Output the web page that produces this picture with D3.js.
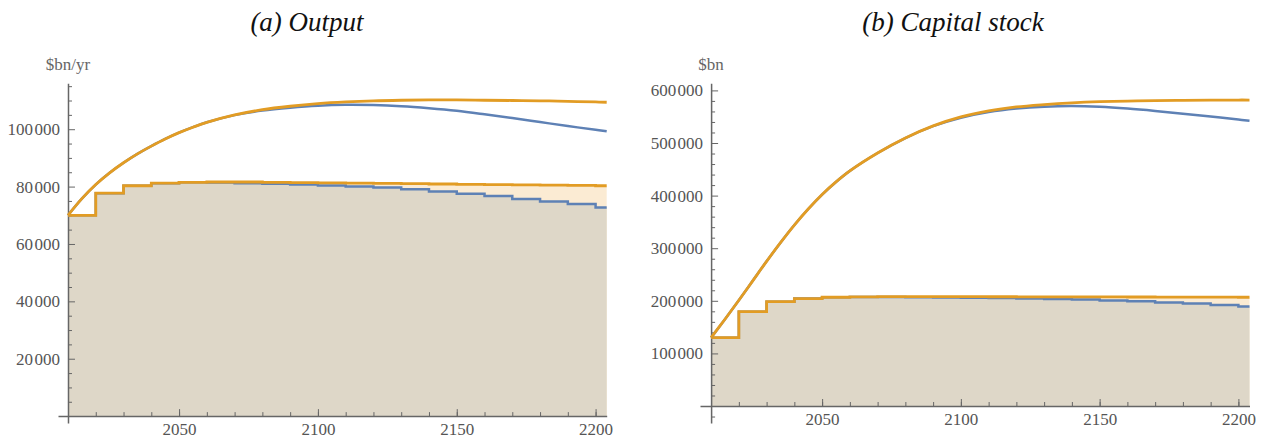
<!DOCTYPE html>
<html>
<head>
<meta charset="utf-8">
<script src="https://cdn.jsdelivr.net/npm/d3@7.9.0/dist/d3.min.js"></script>
<style>
  body { margin: 0; background: #fff; }
  svg { display: block; }
</style>
</head>
<body>
<svg id="chart" width="1262" height="439"></svg>
<script>
// decade steps (value holds from year to next decade); last value extended to endYear
const stepYears = [2010, 2020, 2030, 2040, 2050, 2060, 2070, 2080, 2090, 2100,
                   2110, 2120, 2130, 2140, 2150, 2160, 2170, 2180, 2190, 2200];
const endYear = 2204;
const smoothYears = [2010, 2015, 2020, 2025, 2030, 2035, 2040, 2045, 2050, 2055, 2060, 2070, 2080,
                     2090, 2100, 2110, 2120, 2130, 2140, 2150, 2160, 2170, 2180, 2190, 2200, 2204];

// (a) Output, $bn/yr
const outTopOrange = [70000, 75800, 80700, 84800, 88300, 91400, 94100, 96600, 98800, 100700, 102400, 105000, 106800,
                      108000, 108900, 109500, 109900, 110100, 110200, 110200, 110100, 110000, 109900, 109700, 109500, 109400];
const outTopBlue   = [70000, 75800, 80700, 84800, 88300, 91400, 94100, 96600, 98800, 100700, 102400, 104900, 106500,
                      107500, 108200, 108500, 108400, 108000, 107300, 106400, 105200, 103900, 102500, 101100, 99800, 99300];
const outStepOrange = [70000, 77700, 80300, 81200, 81500, 81600, 81600, 81500, 81400, 81300,
                       81200, 81100, 81000, 80900, 80800, 80700, 80600, 80500, 80400, 80300];
const outStepBlue   = [70000, 77700, 80300, 81200, 81500, 81400, 81200, 81000, 80700, 80400,
                       80000, 79700, 79100, 78300, 77500, 76700, 75700, 74800, 73900, 72700];

// (b) Capital stock, $bn
const capTopOrange = [130000, 165000, 201000, 238000, 275000, 310500, 344000, 374500, 402000, 426000, 447000, 481000, 509500,
                      532500, 549500, 561000, 568500, 573000, 576300, 578500, 579800, 580700, 581200, 581500, 581700, 581700];
const capTopBlue   = [130000, 165000, 201000, 238000, 275000, 310500, 344000, 374500, 402000, 426000, 447000, 481000, 509500,
                      532000, 548000, 558800, 565400, 569000, 570200, 568800, 565500, 561000, 555800, 550300, 544600, 542400];
const capStepOrange = [130000, 179300, 198300, 204300, 206800, 207500, 207800, 207900, 207900, 207800,
                       207700, 207600, 207500, 207400, 207300, 207200, 207100, 207000, 206900, 206800];
const capStepBlue   = [130000, 179300, 198300, 204300, 206800, 207300, 207300, 207000, 206500, 206000,
                       205300, 204500, 203500, 202300, 200800, 199000, 197000, 194700, 192000, 189000];

const outTicks = [20000, 40000, 60000, 80000, 100000];
const capTicks = [100000, 200000, 300000, 400000, 500000, 600000];
const yearTicks = [2050, 2100, 2150, 2200];

const orange = '#e29c24';
const blue = '#5e81b5';
const serif = 'Liberation Serif';

const svg = d3.select('#chart');
const fmt = (v) => d3.format('d')(v).replace(/(\d)(\d{3})$/, '$1\u200A$2');

function styleTicks(a) {
  a.attr('font-family', serif).attr('font-size', 17);
  a.selectAll('.tick line').attr('stroke', '#666');
  a.selectAll('.tick text').attr('font-family', serif).attr('font-size', 17).attr('fill', '#555');
}

function drawPanel(p) {
  const x = d3.scaleLinear().domain(p.xDomain).range(p.xRange);
  const y = d3.scaleLinear().domain(p.yDomain).range([423, 83.3]);
  const g = svg.append('g');

  const steps = (vals) => stepYears.map((yr, i) => [yr, vals[i]]).concat([[endYear, vals[vals.length - 1]]]);
  const smooth = (vals) => smoothYears.map((yr, i) => [yr, vals[i]]);

  const area = d3.area().curve(d3.curveStepAfter)
    .x((d) => x(d[0])).y0(y(0)).y1((d) => y(d[1]));
  const stepLine = d3.line().curve(d3.curveStepAfter).x((d) => x(d[0])).y((d) => y(d[1]));
  const smoothLine = d3.line().curve(d3.curveCatmullRom.alpha(0.5)).x((d) => x(d[0])).y((d) => y(d[1]));

  g.append('path').attr('d', area(steps(p.stepOrange))).attr('fill', '#fbebd3');
  g.append('path').attr('d', area(steps(p.stepBlue))).attr('fill', '#ded7c8');

  // minor ticks
  g.append('g').attr('transform', `translate(${x(2010)},0)`)
    .call(d3.axisLeft(y).tickValues(p.yMinor).tickSize(-4).tickFormat('').tickSizeOuter(0))
    .call(styleTicks)
    .call((a) => a.select('.domain').remove());
  g.append('g').attr('transform', `translate(0,${y(0)})`)
    .call(d3.axisBottom(x).tickValues(d3.range(2020, 2201, 10)).tickSize(-4).tickFormat('').tickSizeOuter(0))
    .call(styleTicks)
    .call((a) => a.select('.domain').remove());

  // major axes
  g.append('g').attr('transform', `translate(${x(2010)},0)`)
    .call(d3.axisLeft(y).tickValues(p.yTicks).tickSize(-7).tickPadding(8).tickFormat(fmt).tickSizeOuter(0))
    .call(styleTicks)
    .call((a) => a.select('.domain').attr('stroke', '#666').attr('stroke-width', 1.5));
  g.append('g').attr('transform', `translate(0,${y(0)})`)
    .call(d3.axisBottom(x).tickValues(yearTicks).tickSize(-7).tickPadding(7).tickSizeOuter(0).tickFormat(d3.format('d')))
    .call(styleTicks)
    .call((a) => a.select('.domain').attr('stroke', '#666').attr('stroke-width', 1.5));

  g.append('path').attr('d', stepLine(steps(p.stepBlue))).attr('fill', 'none').attr('stroke', blue).attr('stroke-width', 2.5);
  g.append('path').attr('d', stepLine(steps(p.stepOrange))).attr('fill', 'none').attr('stroke', orange).attr('stroke-width', 2.8);
  g.append('path').attr('d', smoothLine(smooth(p.topBlue))).attr('fill', 'none').attr('stroke', blue).attr('stroke-width', 2.5);
  g.append('path').attr('d', smoothLine(smooth(p.topOrange))).attr('fill', 'none').attr('stroke', orange).attr('stroke-width', 2.8);

  g.append('text').attr('x', x(2010)).attr('y', 70).attr('text-anchor', 'middle')
    .attr('font-family', serif).attr('font-size', 17).attr('fill', '#666')
    .text(p.unit);
  g.append('text').attr('x', p.titleX).attr('y', 31).attr('text-anchor', 'middle')
    .attr('font-family', serif).attr('font-style', 'italic').attr('font-size', 27)
    .attr('fill', '#111').text(p.title);
}

drawPanel({
  title: '(a) Output', titleX: 307, unit: '$bn/yr',
  xDomain: [2006.4, 2204], xRange: [58, 606.7],
  yDomain: [-2400, 116000], yTicks: outTicks,
  yMinor: d3.range(5000, 116000, 5000).filter((v) => v % 20000 !== 0),
  topOrange: outTopOrange, topBlue: outTopBlue, stepOrange: outStepOrange, stepBlue: outStepBlue
});
drawPanel({
  title: '(b) Capital stock', titleX: 953, unit: '$bn',
  xDomain: [2006, 2204], xRange: [700, 1249.5],
  yDomain: [-32300, 613500], yTicks: capTicks,
  yMinor: d3.range(-20000, 613500, 20000).filter((v) => v % 100000 !== 0),
  topOrange: capTopOrange, topBlue: capTopBlue, stepOrange: capStepOrange, stepBlue: capStepBlue
});
</script>
</body>
</html>
